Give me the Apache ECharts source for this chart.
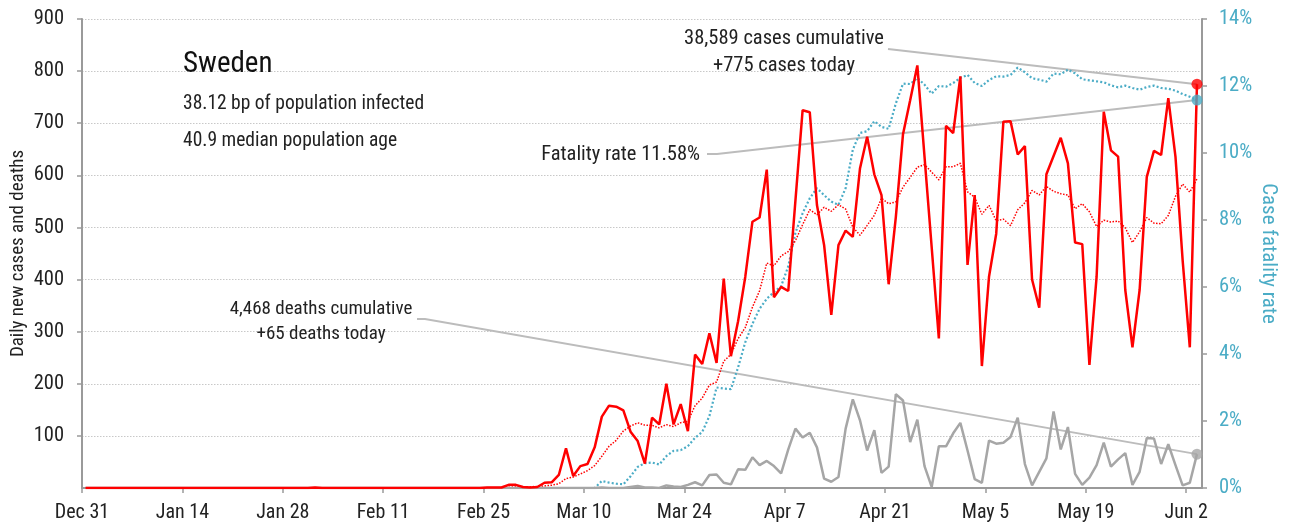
<!DOCTYPE html>
<html>
<head>
<meta charset="utf-8">
<script src="https://cdn.jsdelivr.net/npm/echarts@6/dist/echarts.min.js"></script>
<style>
html,body{margin:0;padding:0;background:#fff;}
#chart{width:1299px;height:525px;}
</style>
</head>
<body>
<div id="chart"></div>
<script>
// ---------- DATA ----------
const tickLabels = ['Dec 31','Jan 14','Jan 28','Feb 11','Feb 25','Mar 10','Mar 24','Apr 7','Apr 21','May 5','May 19','Jun 2'];
// one value per day, starting Dec 31 (index 0) to Jun 3 (index 155)
const dailyCases = [
  0,0,0,0,0,0,0,0,0,0,
  0,0,0,0,0,0,0,0,0,0,
  0,0,0,0,0,0,0,0,0,0,
  0,0,1,0,0,0,0,0,0,0,
  0,0,0,0,0,0,0,0,0,0,
  0,0,0,0,0,0,1,1,1,6,
  6,2,1,2,10,11,25,76,23,42,
  46,78,137,158,156,149,108,90,47,135,
  122,200,122,161,109,256,238,297,240,402,
  253,320,405,511,519,611,366,386,378,552,
  725,721,543,466,332,466,494,482,613,674,
  602,562,391,520,679,744,811,636,462,287,
  695,681,790,428,562,234,406,488,703,704,
  640,656,400,346,602,637,672,623,471,468,
  236,405,722,648,636,380,270,380,597,647,
  639,748,636,437,270,775
];
const casesAvg7 = [
  0,0,0,0,0,0,0,0,0,0,
  0,0,0,0,0,0,0,0,0,0,
  0,0,0,0,0,0,0,0,0,0,
  0,0,0.1,0.1,0.1,0.1,0.1,0.1,0.1,0,
  0,0,0,0,0,0,0,0,0,0,
  0,0,0,0,0,0,0.1,0.3,0.4,1.3,
  2.1,2.4,2.6,2.7,4.0,5.4,8.1,18.1,21.1,27.0,
  33.3,43.0,61.0,80.0,91.4,109.4,118.9,125.1,120.7,120.4,
  115.3,121.6,117.7,125.3,128.0,157.9,172.6,197.6,203.3,243.3,
  256.4,286.6,307.9,346.9,378.6,431.6,426.4,445.4,453.7,474.7,
  505.3,534.1,524.4,538.7,531.0,543.6,535.3,500.6,485.1,503.9,
  523.3,556.1,545.4,549.1,577.3,596.0,615.6,620.4,606.1,591.3,
  616.3,616.6,623.1,568.4,557.9,525.3,542.3,512.7,515.9,503.6,
  533.9,547.3,571.0,562.4,578.7,569.3,564.7,562.3,535.9,545.6,
  529.9,501.7,513.9,510.4,512.3,499.3,471.0,491.6,519.0,508.3,
  507.0,523.0,559.6,583.4,567.7,593.1
];
const dailyDeaths = [
  0,0,0,0,0,0,0,0,0,0,
  0,0,0,0,0,0,0,0,0,0,
  0,0,0,0,0,0,0,0,0,0,
  0,0,0,0,0,0,0,0,0,0,
  0,0,0,0,0,0,0,0,0,0,
  0,0,0,0,0,0,0,0,0,0,
  0,0,0,0,0,0,0,0,0,0,
  0,0,1,0,0,0,2,4,1,1,
  0,5,3,2,6,11,5,25,26,10,
  7,36,35,59,44,52,42,28,74,114,
  97,106,78,18,12,21,114,170,130,72,
  111,29,41,180,168,88,131,42,2,80,
  80,105,125,72,17,10,91,85,87,98,
  135,46,5,31,57,147,74,117,27,6,
  20,44,87,41,55,67,6,31,96,95,
  46,84,44,5,10,65
];
const fatalityRate = [
  0,0,0,0,0,0,0,0,0,0,
  0,0,0,0,0,0,0,0,0,0,
  0,0,0,0,0,0,0,0,0,0,
  0,0,0,0,0,0,0,0,0,0,
  0,0,0,0,0,0,0,0,0,0,
  0,0,0,0,0,0,0,0,0,0,
  0,0,0,0,0,0,0,0,0,0,
  0,0,0.21,0.16,0.13,0.11,0.35,0.63,0.74,0.76,
  0.70,0.95,1.11,1.13,1.25,1.50,1.67,2.15,3.00,2.97,
  2.95,3.60,4.35,4.90,5.35,5.65,5.85,6.02,6.62,7.62,
  8.20,8.65,8.95,8.74,8.55,8.45,8.95,10.10,10.60,10.65,
  10.95,10.78,10.72,11.48,12.07,12.06,12.24,12.04,11.77,12.00,
  11.98,12.09,12.24,12.33,12.09,12.00,12.18,12.29,12.28,12.33,
  12.55,12.41,12.23,12.19,12.13,12.37,12.35,12.49,12.38,12.20,
  12.17,12.14,12.11,12.02,11.96,12.01,11.94,11.89,11.97,12.01,
  11.94,11.92,11.86,11.76,11.68,11.58
];
const countryName = 'Sweden';
const infoLines = ['38.12 bp of population infected', '40.9 median population age'];
const casesNote = ['38,589 cases cumulative', '+775 cases today'];
const deathsNote = ['4,468 deaths cumulative', '+65 deaths today'];
const fatalityNote = 'Fatality rate 11.58%';

// ---------- CHART ----------
const FONT = "'Roboto Condensed','Liberation Sans Narrow','Nimbus Sans Narrow','Arial Narrow','DejaVu Sans Condensed',sans-serif";
const RED = '#ff0000', BLUE = '#4bacc6', GRAY = '#a6a6a6', AXIS = '#9a9a9a';
const toXY = arr => arr.map((v, i) => [i + 0.5, v]);
const last = arr => [[arr.length - 0.5, arr[arr.length - 1]]];

const chart = echarts.init(document.getElementById('chart'), null, {renderer: 'canvas'});
const option = {
  animation: false,
  textStyle: {fontFamily: FONT},
  grid: {left: 82, right: 97, top: 19, bottom: 37, containLabel: false, outerBoundsMode: 'none'},
  xAxis: {
    type: 'value', min: 0, max: 156.2, interval: 14,
    axisLine: {show: true, onZero: false, lineStyle: {color: AXIS, width: 2}},
    axisTick: {show: true, length: 5, lineStyle: {color: AXIS, width: 1.5}},
    axisLabel: {
      fontFamily: FONT, fontSize: 20, color: '#222', margin: 15, showMaxLabel: false,
      formatter: v => (Math.abs(v / 14 - Math.round(v / 14)) < 1e-6 ? (tickLabels[Math.round(v / 14)] || '') : '')
    },
    splitLine: {show: false}
  },
  yAxis: [{
    type: 'value', min: 0, max: 900, interval: 100,
    name: 'Daily new cases and deaths', nameLocation: 'middle', nameGap: 54, nameMoveOverlap: false,
    nameTextStyle: {fontFamily: FONT, fontSize: 19, color: '#222'},
    axisLine: {show: true, lineStyle: {color: AXIS, width: 2}},
    axisTick: {show: true, length: 5, lineStyle: {color: AXIS, width: 1.5}},
    axisLabel: {fontFamily: FONT, fontSize: 20.5, color: '#222', margin: 18, showMinLabel: false},
    splitLine: {show: true, lineStyle: {color: '#c8c8c8', width: 1, type: [1.5, 1.5]}}
  }, {
    type: 'value', min: 0, max: 14, interval: 2, position: 'right',
    name: 'Case fatality rate', nameLocation: 'middle', nameGap: 56, nameRotate: -90, nameMoveOverlap: false,
    nameTextStyle: {fontFamily: FONT, fontSize: 21, color: BLUE},
    axisLine: {show: true, lineStyle: {color: AXIS, width: 2}},
    axisTick: {show: true, length: 5, lineStyle: {color: AXIS, width: 1.5}},
    axisLabel: {fontFamily: FONT, fontSize: 20.5, color: BLUE, margin: 17, formatter: '{value}%'},
    splitLine: {show: false}
  }],
  series: [
    {name: 'CFR', type: 'line', yAxisIndex: 1, data: toXY(fatalityRate), symbol: 'none', z: 2,
     lineStyle: {color: BLUE, width: 2.2, type: [2, 2.2]}},
    {name: 'Cases 7d', type: 'line', data: toXY(casesAvg7), symbol: 'none', z: 3,
     lineStyle: {color: RED, width: 1.5, type: [1.5, 1.5]}},
    {name: 'Deaths', type: 'line', data: toXY(dailyDeaths), symbol: 'none', z: 4,
     lineStyle: {color: GRAY, width: 2.5}},
    {name: 'Cases', type: 'line', data: toXY(dailyCases), symbol: 'none', z: 5,
     lineStyle: {color: RED, width: 2.5}},
    {type: 'scatter', data: last(dailyDeaths), symbolSize: 11, itemStyle: {color: GRAY}, z: 6},
    {type: 'scatter', data: last(dailyCases), symbolSize: 11, itemStyle: {color: RED}, z: 6},
    {type: 'scatter', yAxisIndex: 1, data: last(fatalityRate), symbolSize: 11, itemStyle: {color: BLUE}, z: 7}
  ]
};
chart.setOption(option);

const px = (pt, yi) => chart.convertToPixel({xAxisIndex: 0, yAxisIndex: yi}, pt);
const redDot = px(last(dailyCases)[0], 0);
const blueDot = px(last(fatalityRate)[0], 1);
const grayDot = px(last(dailyDeaths)[0], 0);

const txt = (x, y, text, size, color, align, weight) => ({
  type: 'text', x, y, z: 10,
  style: {text, fontFamily: FONT, fontSize: size, fontWeight: weight || 'normal', fill: color, align, verticalAlign: 'middle'}
});
const leader = pts => ({type: 'polyline', z: 1, shape: {points: pts}, style: {stroke: '#bcbcbc', lineWidth: 2, fill: null}});

chart.setOption({
  graphic: [
    leader([[888, 49], redDot]),
    leader([[707, 154], [717, 154], blueDot]),
    leader([[417, 319], [425, 319], grayDot]),
    txt(183, 65, countryName, 29, '#111', 'left'),
    txt(183, 104, infoLines[0], 19.5, '#222', 'left'),
    txt(183, 141, infoLines[1], 19.5, '#222', 'left'),
    txt(784, 39, casesNote[0], 20.5, '#222', 'center'),
    txt(784, 66, casesNote[1], 20.5, '#222', 'center'),
    txt(700, 155, fatalityNote, 20.5, '#222', 'right'),
    txt(321, 309, deathsNote[0], 19, '#222', 'center'),
    txt(321, 334, deathsNote[1], 19, '#222', 'center')
  ]
});
</script>
</body>
</html>
